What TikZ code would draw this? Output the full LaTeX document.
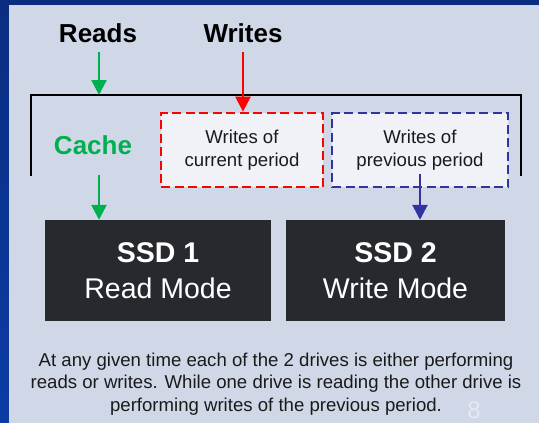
\documentclass[tikz,border=0pt]{standalone}
\usepackage{fontspec}
\setmainfont{Liberation Sans}
\usetikzlibrary{arrows.meta,positioning}

\definecolor{frameblue}{RGB}{10,45,128}
\definecolor{frameblue2}{RGB}{11,60,165}
\definecolor{panelgray}{RGB}{208,216,232}
\definecolor{boxfill}{RGB}{240,242,248}
\definecolor{drivegray}{RGB}{39,41,46}
\definecolor{cachegreen}{RGB}{0,176,80}
\definecolor{prevblue}{RGB}{51,51,160}
\definecolor{textdark}{RGB}{26,26,26}
\definecolor{pagegray}{RGB}{228,233,242}

\begin{document}
\begin{tikzpicture}[
			x=1pt,y=-1pt,
			bigword/.style={
				inner sep=0pt,
				font=\fontsize{26}{30}\selectfont\bfseries
			},
			periodbox/.style={
				rectangle,draw,align=center,
				line width=2.7pt,
				dash pattern=on 9pt off 4.5pt,
				fill=boxfill,text=textdark,
				minimum height=74pt,
				font=\fontsize{18.6}{23}\selectfont
			},
			drivebox/.style={
				rectangle,fill=drivegray,text=white,align=center,
				minimum height=101pt,
				font=\fontsize{28.5}{36}\selectfont
			},
			note/.style={
				align=center,inner sep=0pt,text=textdark,
				font=\fontsize{18.6}{22.5}\selectfont
			},
			flow/.style={-{Triangle[width=15pt,length=15pt]},line width=2.5pt},
			bracket/.style={line width=2pt,black}
			]
			
			% slide background
			\useasboundingbox (0,0) rectangle (539,423);
			\shade[top color=frameblue,bottom color=frameblue2] (0,0) rectangle (539,423);
			\fill[panelgray] (9,5) rectangle (539,423);
			
			\node[bigword] (reads) at (98,33) {Reads};
			\node[bigword] (writes) at (243,33) {Writes};
			
			\draw[bracket] (31,176) |- (521,95) -- (521,176);
			\coordinate (readtap) at (99,95);
			
			\node[bigword,text=cachegreen] (cache) at (93,145) {Cache};
			
			\node[periodbox,draw=red,minimum width=162pt] (current) at (242,150)
			{Writes of\\current period};
			
			\node[periodbox,draw=prevblue,minimum width=176pt] (previous) at (420,150)
			{Writes of\\previous period};
			
			\node[drivebox,minimum width=226pt] (ssd1) at (158,270.5)
			{\textbf{SSD 1}\\Read Mode};
			
			\node[drivebox,minimum width=219pt] (ssd2) at (395.5,270.5)
			{\textbf{SSD 2}\\Write Mode};
			
			\coordinate (cacheout) at (99,175);
			
			\draw[flow,cachegreen] ([yshift=-9pt]reads.south -| readtap) -- (readtap);
			\draw[flow,red] ([yshift=-9pt]writes.south) -- (writes.south |- current.north);
			\draw[flow,cachegreen] (cacheout) -- (cacheout |- ssd1.north);
			\draw[flow,prevblue] ([yshift=-24pt]previous.center) -- (previous.center |- ssd2.north);
			
			\node[note] (summary) at (276,384)
			{At any given time each of the 2 drives is either performing\\
			reads or writes. While one drive is reading the other drive is\\
			performing writes of the previous period.};
			
			\node[inner sep=0pt,text=pagegray,font=\fontsize{24}{28}\selectfont] (pagenum) at (474,410.5) {8};
			
		\end{tikzpicture}
\end{document}
